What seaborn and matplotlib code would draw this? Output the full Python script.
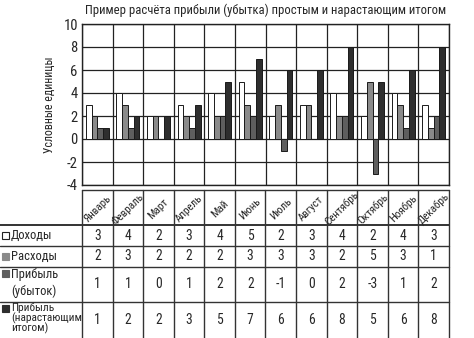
import numpy as np
import pandas as pd
import matplotlib
matplotlib.use("Agg")
import matplotlib.pyplot as plt
from matplotlib import font_manager
import seaborn as sns

months = ["Январь", "Февраль", "Март", "Апрель", "Май", "Июнь", "Июль",
          "Август", "Сентябрь", "Октябрь", "Ноябрь", "Декабрь"]
series_names = ["Доходы", "Расходы", "Прибыль (убыток)", "Прибыль (нарастающим итогом)"]
row_labels = ["Доходы", "Расходы", "Прибыль\n(убыток)", "Прибыль\n(нарастающим\nитогом)"]
income = [3, 4, 2, 3, 4, 5, 2, 3, 4, 2, 4, 3]
expenses = [2, 3, 2, 2, 2, 3, 3, 3, 2, 5, 3, 1]
profit = [1, 1, 0, 1, 2, 2, -1, 0, 2, -3, 1, 2]
cumulative = [1, 2, 2, 3, 5, 7, 6, 6, 8, 5, 6, 8]
colors = ["#ffffff", "#8a8a8a", "#5e5e5e", "#2e2e2e"]
title = "Пример расчёта прибыли (убытка) простым и нарастающим итогом"
ylabel = "Условные единицы"
yticks = [-4, -2, 0, 2, 4, 6, 8, 10]

sns.set_style("white")
plt.rcParams["font.family"] = ["DejaVu Sans"]

# look for a condensed / narrow face
cand = None
for pref in ["LiberationSansNarrow-Regular", "RobotoCondensed-Regular",
             "OpenSans_Condensed-Regular", "OpenSansCondensed",
             "DejaVuSansCondensed.ttf"]:
    for f in font_manager.fontManager.ttflist:
        if pref.lower() in f.fname.lower().replace(" ", ""):
            cand = f.fname
            break
    if cand:
        break
if cand is None:
    for f in font_manager.fontManager.ttflist:
        low = f.fname.lower()
        if ("condensed" in low or "narrow" in low) and "bold" not in low \
                and "italic" not in low and "oblique" not in low and "light" not in low:
            cand = f.fname
            break

def fp(size):
    if cand:
        return font_manager.FontProperties(fname=cand, size=size)
    return font_manager.FontProperties(family="DejaVu Sans", stretch="condensed",
                                       size=size * 0.82)

all_series = [income, expenses, profit, cumulative]
df = pd.DataFrame({
    "Месяц": months * 4,
    "Значение": sum(all_series, []),
    "Ряд": [n for n in series_names for _ in months],
})

W, H = 474, 338
fig = plt.figure(figsize=(W / 100, H / 100), dpi=100)

def rect(l, t, r, b):
    return [l / W, 1 - b / H, (r - l) / W, (b - t) / H]

L, R, T, B = 82, 449, 24, 185
ax = fig.add_axes(rect(L, T, R, B))
sns.barplot(data=df, x="Месяц", y="Значение", hue="Ряд", palette=colors,
            width=0.75, saturation=1, edgecolor="#1a1a1a", linewidth=0.7,
            legend=False, ax=ax)
ax.set_xlim(-0.5, len(months) - 0.5)
ax.set_ylim(yticks[0], yticks[-1])
ax.set_yticks(yticks)
ax.set_yticklabels([str(t) for t in yticks], fontproperties=fp(10.5))
ax.set_xticks([])
ax.set_xticks(np.arange(-0.5, len(months), 1), minor=True)
ax.set_axisbelow(True)
ax.grid(True, which="minor", axis="x", color="#222222", lw=0.9)
ax.grid(True, which="major", axis="y", color="#222222", lw=0.9)
ax.tick_params(axis="both", which="both", length=0)
ax.tick_params(axis="y", pad=3)
ax.set_xlabel("")
ax.set_ylabel(ylabel, fontproperties=fp(8.5), labelpad=5)
for s in ax.spines.values():
    s.set_color("#222222")
    s.set_linewidth(1.0)
ax.set_title(title, fontproperties=fp(9.1), pad=7)

# data table
tab = fig.add_axes([0, 0, 1, 1])
tab.set_xlim(0, W)
tab.set_ylim(H, 0)
tab.axis("off")
cw = (R - L) / len(months)
rows_y = [190, 225, 246, 267, 302, 338]
lc = "#333333"
tab.plot([L, R], [rows_y[0], rows_y[0]], color=lc, lw=1.0)
for y in rows_y[1:5]:
    tab.plot([0, R], [y, y], color=lc, lw=1.0 if y != rows_y[1] else 1.4)
for i in range(len(months) + 1):
    x = L + i * cw
    tab.plot([x, x], [rows_y[0], H], color=lc, lw=1.0)
for i, m in enumerate(months):
    cx = L + (i + 0.5) * cw
    tab.text(cx, (rows_y[0] + rows_y[1]) / 2 + 1, m, rotation=45,
             ha="center", va="center", fontproperties=fp(8), rotation_mode="anchor")
for r, (vals, lab, col) in enumerate(zip(all_series, row_labels, colors)):
    y0, y1 = rows_y[r + 1], rows_y[r + 2]
    cy = (y0 + y1) / 2
    for i, v in enumerate(vals):
        tab.text(L + (i + 0.5) * cw, cy, str(v), ha="center", va="center",
                 fontproperties=fp(9.8))
    ty = cy if r < 2 else y0 + 6.5
    tab.add_patch(plt.Rectangle((2, ty - 3.5), 7, 7, facecolor=col,
                                edgecolor="#222222" if r == 0 else col, lw=0.8))
    if r < 2:
        tab.text(11, cy, lab, ha="left", va="center", fontproperties=fp(9))
    elif r == 2:
        tab.text(11, y0 + 1, lab, ha="left", va="top", fontproperties=fp(9),
                 linespacing=1.3)
    else:
        tab.text(11, y0 + 0.5, lab, ha="left", va="top", fontproperties=fp(8.2),
                 linespacing=0.9)

fig.savefig("out.png", dpi=100)
